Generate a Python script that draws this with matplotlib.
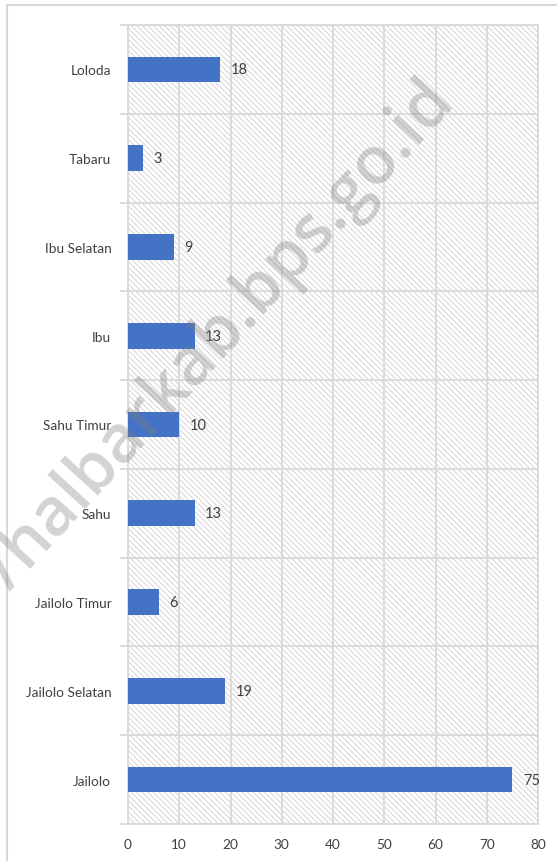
import matplotlib
matplotlib.use("Agg")
import matplotlib.pyplot as plt
from matplotlib.patches import Rectangle
from matplotlib.lines import Line2D
import numpy as np

categories = ["Jailolo", "Jailolo Selatan", "Jailolo Timur", "Sahu", "Sahu Timur",
              "Ibu", "Ibu Selatan", "Tabaru", "Loloda"]
values = [75, 19, 6, 13, 10, 13, 9, 3, 18]
xticks = [0, 10, 20, 30, 40, 50, 60, 70, 80]

plt.rcParams['font.family'] = ['Lato', 'DejaVu Sans']
plt.rcParams['hatch.linewidth'] = 0.7

W, H = 557, 862
fig = plt.figure(figsize=(W / 100, H / 100), dpi=100)
ax = fig.add_axes([128 / W, 1 - 825 / H, (538 - 128) / W, (825 - 26) / H])

grid_c = '#d9d9d9'
# hatched background
bg = Rectangle((0, 0), 1, 1, transform=ax.transAxes, facecolor='white',
               edgecolor='#d4d4d4', hatch='\\\\\\\\\\\\', linewidth=0, zorder=0)
ax.add_patch(bg)

y = np.arange(len(categories))
ax.barh(y, values, height=0.29, color='#4472C4', zorder=3)
for yi, v in zip(y, values):
    ax.annotate(str(v), (v, yi), xytext=(7.5, 0), textcoords='offset points',
                va='center', ha='left', fontsize=10.5, color='#404040', zorder=4)

ax.set_xlim(0, 80)
ax.set_ylim(-0.5, len(categories) - 0.5)
ax.set_xticks(xticks)
ax.set_xticklabels([str(t) for t in xticks])
ax.set_yticks(y)
ax.set_yticklabels(categories)
ax.set_yticks(np.arange(-0.5, len(categories)), minor=True)
ax.tick_params(axis='y', which='major', length=0, pad=12, labelsize=9.8, labelcolor='#404040')
ax.tick_params(axis='y', which='minor', length=6, color=grid_c, width=1.3)
ax.tick_params(axis='x', length=0, pad=10, labelsize=9.8, labelcolor='#404040')
ax.grid(axis='x', color=grid_c, linewidth=1.3, zorder=1)
ax.grid(axis='y', which='minor', color=grid_c, linewidth=1.3, zorder=1)
ax.set_axisbelow(True)
for s in ax.spines.values():
    s.set_color(grid_c)
    s.set_linewidth(1.3)
    s.set_zorder(1)

# outer chart border (cropped)
fig.add_artist(Line2D([7 / W, 7 / W], [0, 1 - 6 / H], transform=fig.transFigure,
                      color='#d9d9d9', linewidth=1.5))
fig.add_artist(Line2D([7 / W, 1], [1 - 6 / H, 1 - 6 / H], transform=fig.transFigure,
                      color='#d9d9d9', linewidth=1.5))

# watermark
fig.text(455 / W, 1 - 100 / H, "https://halbarkab.bps.go.id", rotation=47.5,
         rotation_mode='anchor', ha='right', va='baseline', fontsize=48,
         family=['Open Sans', 'DejaVu Sans'], fontweight='semibold',
         color='#808080', alpha=0.35, zorder=10)

fig.savefig("out.png", dpi=100)
